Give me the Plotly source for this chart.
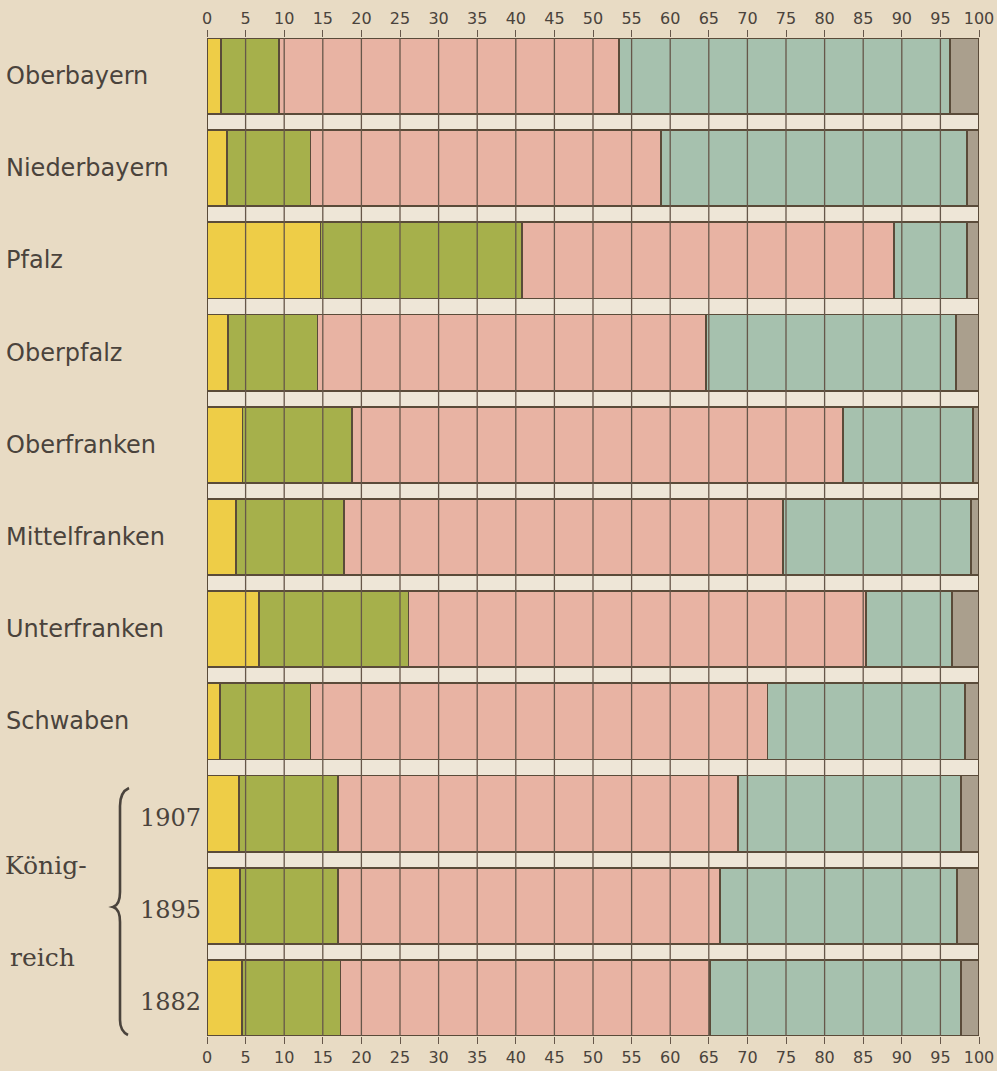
import plotly.graph_objects as go

# ---------------- data ----------------
categories = ["Oberbayern", "Niederbayern", "Pfalz", "Oberpfalz", "Oberfranken",
              "Mittelfranken", "Unterfranken", "Schwaben", "1907", "1895", "1882"]

seg_yellow = [1.8, 2.6, 14.7, 2.7, 4.6, 3.8, 6.7, 1.7, 4.1, 4.3, 4.5]
seg_green  = [7.5, 10.8, 26.1, 11.6, 14.2, 13.9, 19.4, 11.7, 12.9, 12.7, 12.8]
seg_pink   = [44.1, 45.4, 48.2, 50.3, 63.6, 56.9, 59.3, 59.2, 51.8, 49.4, 47.9]
seg_teal   = [42.8, 39.6, 9.4, 32.4, 16.8, 24.4, 11.1, 25.6, 28.9, 30.8, 32.5]
seg_gray   = [3.8, 1.6, 1.6, 3.0, 0.8, 1.0, 3.5, 1.8, 2.3, 2.8, 2.3]

tick_values = [0, 5, 10, 15, 20, 25, 30, 35, 40, 45, 50,
               55, 60, 65, 70, 75, 80, 85, 90, 95, 100]
tick_labels = [str(v) for v in tick_values]

group_label_top = "König-"
group_label_bottom = "reich"

# ---------------- styling ----------------
W, H = 997, 1071
L, R, T, B = 207, 18, 38, 35
PW, PH = W - L - R, H - T - B

PAGE = "#e8dbc4"
STRIP = "#eee6d7"
EDGE = "#5a4b39"
GRID = "#66574a"
TEXT = "#4a433c"

colors = ["#eecd47", "#a6b04b", "#e8b3a3", "#a6c1ae", "#aa9f8d"]
series = [seg_yellow, seg_green, seg_pink, seg_teal, seg_gray]

ypos = list(range(len(categories)))
bargap = 16 / 92.2

fig = go.Figure()
for vals, col in zip(series, colors):
    fig.add_trace(go.Bar(
        y=ypos, x=vals, orientation="h",
        marker=dict(color=col, line=dict(color=EDGE, width=1.8)),
        hoverinfo="skip", showlegend=False,
    ))

# invisible helper trace so the bottom (duplicate) axis is drawn
fig.add_trace(go.Scatter(x=[tick_values[0], tick_values[-1]], y=[ypos[0], ypos[0]],
                         xaxis="x2", yaxis="y", mode="markers",
                         marker=dict(opacity=0), hoverinfo="skip", showlegend=False))

# vertical grid lines drawn above the bars, at the axis tick values
shapes = []
for v in tick_values:
    edge = v in (tick_values[0], tick_values[-1])
    shapes.append(dict(type="line", xref="x", yref="paper", x0=v, x1=v, y0=0, y1=1,
                       line=dict(color=EDGE if edge else GRID, width=2 if edge else 1.3),
                       layer="above"))

def px2paper(px, py):
    return (px - L) / PW, (H - B - py) / PH

# curly brace for the "Königreich" group
pts = [(129, 788), (120, 792), (120, 806), (120, 892), (120, 905), (113, 907),
       (120, 909), (120, 922), (120, 1020), (120, 1031), (128, 1035)]
p = [px2paper(*q) for q in pts]
f = lambda q: f"{q[0]:.5f},{q[1]:.5f}"
path = (f"M {f(p[0])} Q {f(p[1])} {f(p[2])} L {f(p[3])} Q {f(p[4])} {f(p[5])} "
        f"Q {f(p[6])} {f(p[7])} L {f(p[8])} Q {f(p[9])} {f(p[10])}")
shapes.append(dict(type="path", xref="paper", yref="paper", path=path,
                   line=dict(color=TEXT, width=2.6)))

annotations = []
label_x = (4 - L) / PW
year_x = (203 - L) / PW
for i, name in enumerate(categories):
    if i < 8:
        annotations.append(dict(x=label_x, y=i, xref="paper", yref="y", text=name,
                                xanchor="left", yanchor="middle", showarrow=False,
                                font=dict(family="DejaVu Sans", size=24, color=TEXT)))
    else:
        annotations.append(dict(x=year_x, y=i, xref="paper", yref="y", text=name,
                                xanchor="right", yanchor="middle", showarrow=False, yshift=-4,
                                font=dict(family="DejaVu Serif", size=24, color=TEXT)))

gx, gy = px2paper(3, 865)
annotations.append(dict(x=gx, y=gy, xref="paper", yref="paper", text=group_label_top,
                        xanchor="left", yanchor="middle", showarrow=False,
                        font=dict(family="DejaVu Serif", size=25, color=TEXT)))
gx, gy = px2paper(8, 957)
annotations.append(dict(x=gx, y=gy, xref="paper", yref="paper", text=group_label_bottom,
                        xanchor="left", yanchor="middle", showarrow=False,
                        font=dict(family="DejaVu Serif", size=25, color=TEXT)))

axis_common = dict(range=[tick_values[0], tick_values[-1]], tickmode="array",
                   tickvals=tick_values, ticktext=tick_labels,
                   showgrid=False, zeroline=False, showline=False, automargin=False,
                   ticks="outside", ticklen=7, tickwidth=1.3, tickcolor=GRID,
                   tickfont=dict(family="DejaVu Sans", size=16, color=TEXT),
                   fixedrange=True)

fig.update_layout(
    width=W, height=H,
    margin=dict(l=L, r=R, t=T, b=B, autoexpand=False),
    paper_bgcolor=PAGE, plot_bgcolor=STRIP,
    barmode="stack", bargap=bargap,
    xaxis=dict(side="top", **axis_common),
    xaxis2=dict(side="bottom", overlaying="x", anchor="y", **axis_common),
    yaxis=dict(range=[len(categories) - 0.5 - bargap / 2, -0.5 + bargap / 2],
               showticklabels=False, showgrid=False, zeroline=False, ticks="",
               automargin=False, fixedrange=True),
    shapes=shapes, annotations=annotations,
)

fig.write_html("out.html", config={"displayModeBar": False},
               post_script="document.body.style.margin='0';"
                           "document.body.style.background='" + PAGE + "';")
